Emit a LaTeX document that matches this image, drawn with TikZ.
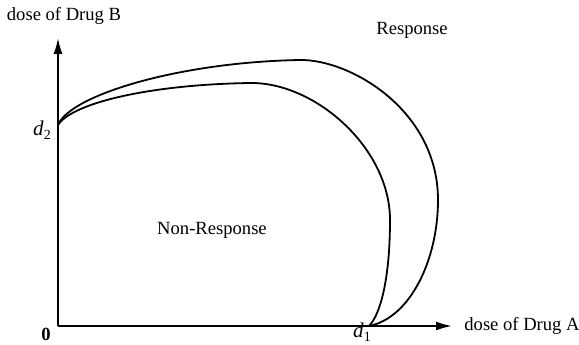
\documentclass[tikz,border=0pt]{standalone}
\usepackage{fontspec}
\setmainfont{Liberation Serif}
\usepackage{tikz}
\usetikzlibrary{arrows.meta}
\usetikzlibrary{positioning}
\usetikzlibrary{calc}

\newcommand{\dose}[1]{\textit{d}\raisebox{-0.45ex}{\fontsize{7}{8}\selectfont #1}}

\tikzset{
    lbl/.style = {inner sep=1pt, font=\fontsize{9.3}{11}\selectfont},
    axis/.style = {line width=0.9pt, -{Latex[length=8pt,width=4.5pt]}},
    curve/.style = {line width=0.9pt}
}

\begin{document}
\begin{tikzpicture}[x=0.5pt, y=-0.5pt]
    \useasboundingbox (0,0) rectangle (579,344);
    % axes
    \coordinate (O) at (58,326);
    \coordinate (xend) at (452,326);
    \coordinate (yend) at (58,38);
    \coordinate (d2) at (58,125);
    \coordinate (d1) at (369,326);
    \draw[axis] (O) -- (xend);
    \draw[axis] (O) -- (yend);
    % outer curve
    \draw[curve] (d2) .. controls (70,95) and (180,62) .. (300,60)
        .. controls (350,59.2) and (438,110) .. (438,200)
        .. controls (438,260) and (410,318) .. (d1);
    % inner curve
    \draw[curve] (d2) .. controls (72,103) and (150,84.5) .. (250,83)
        .. controls (315,82) and (390,148) .. (390,220)
        .. controls (390,280) and (380,315) .. (d1);
    % labels
    \node[lbl] (ylab) at (64,16) {dose of Drug B};
    \node[lbl, anchor=west] (xlab) at (462,326) {dose of Drug A};
    \node[lbl] (resp) at (412,30) {Response};
    \node[lbl] (nonresp) at (212,230) {Non-Response};
    \node[lbl] (zero) at (46,334) {\textbf{0}};
    \node[lbl, font=\fontsize{10.5}{12}\selectfont] (d2lab) at (42,130) {\dose{2}};
    \node[lbl, font=\fontsize{10.5}{12}\selectfont] (d1lab) at (362,332) {\dose{1}};
\end{tikzpicture}
\end{document}
